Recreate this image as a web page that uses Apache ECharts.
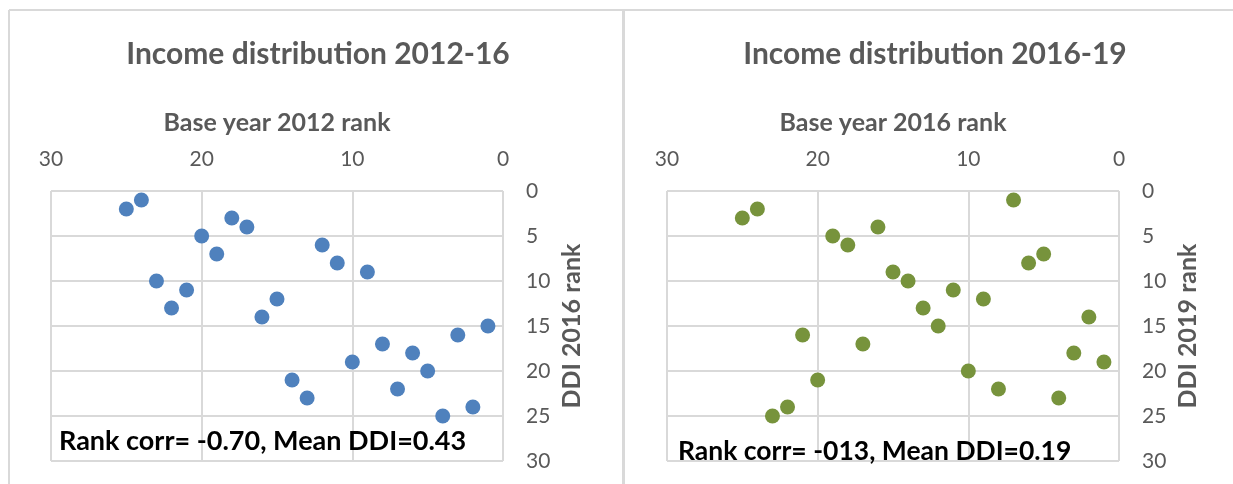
<!DOCTYPE html>
<html>
<head>
<meta charset="utf-8">
<script src="https://cdn.jsdelivr.net/npm/echarts@6/dist/echarts.min.js"></script>
<style>
html,body{margin:0;padding:0;background:#fff;}
#chart{width:1233px;height:484px;}
</style>
</head>
<body>
<div id="chart"></div>
<script>
const titles = ['Income distribution 2012-16', 'Income distribution 2016-19'];
const xAxisNames = ['Base year 2012 rank', 'Base year 2016 rank'];
const yAxisNames = ['DDI 2016 rank', 'DDI 2019 rank'];
const notes = ['Rank corr= -0.70, Mean DDI=0.43', 'Rank corr= -013, Mean DDI=0.19'];

const baseRank2012 = [24,25,18,17,20,12,19,11,9,23,21,15,22,16,1,3,8,6,10,5,14,7,13,2,4];
const ddiRank2016  = [1,2,3,4,5,6,7,8,9,10,11,12,13,14,15,16,17,18,19,20,21,22,23,24,25];
const baseRank2016 = [7,24,25,16,19,18,5,6,15,14,11,9,13,2,12,21,17,3,1,10,20,8,4,22,23];
const ddiRank2019  = [1,2,3,4,5,6,7,8,9,10,11,12,13,14,15,16,17,18,19,20,21,22,23,24,25];

const colors = ['#4F81BD', '#77933C'];
const FONT = 'Lato';
const GRAY = '#595959';

const grids = [
  {left: 51, top: 191, width: 452, height: 270},
  {left: 667, top: 191, width: 452, height: 270}
];

function pairs(xs, ys){ return xs.map((x,i)=>[x, ys[i]]); }
const seriesData = [pairs(baseRank2012, ddiRank2016), pairs(baseRank2016, ddiRank2019)];

const chart = echarts.init(document.getElementById('chart'), null, {renderer:'canvas'});

const option = {
  animation: false,
  backgroundColor: '#fff',
  textStyle: {fontFamily: FONT},
  title: [
    {text: titles[0], left: 313, top: 34, textAlign: 'center',
     textStyle: {fontFamily: FONT, fontWeight: 'bold', fontSize: 30, color: GRAY}},
    {text: titles[1], left: 930, top: 34, textAlign: 'center',
     textStyle: {fontFamily: FONT, fontWeight: 'bold', fontSize: 30, color: GRAY}},
    {text: notes[0], left: 54, top: 423,
     textStyle: {fontFamily: FONT, fontWeight: 'bold', fontSize: 27, color: '#000'}},
    {text: notes[1], left: 673, top: 433,
     textStyle: {fontFamily: FONT, fontWeight: 'bold', fontSize: 26.5, color: '#000'}}
  ],
  grid: grids,
  xAxis: [0,1].map(i => ({
    type: 'value', gridIndex: i, position: 'top', inverse: true,
    min: 0, max: 30, interval: 10,
    name: xAxisNames[i], nameLocation: 'middle', nameGap: 56,
    nameTextStyle: {fontFamily: FONT, fontWeight: 'bold', fontSize: 25, color: GRAY},
    axisLine: {show: false}, axisTick: {show: false},
    axisLabel: {fontFamily: FONT, fontSize: 21, color: GRAY, margin: 21},
    splitLine: {show: true, lineStyle: {color: '#d9d9d9', width: 2}}
  })),
  yAxis: [0,1].map(i => ({
    type: 'value', gridIndex: i, position: 'right', inverse: true,
    min: 0, max: 30, interval: 5,
    name: yAxisNames[i], nameLocation: 'middle', nameGap: 56, nameRotate: 90,
    nameTextStyle: {fontFamily: FONT, fontWeight: 'bold', fontSize: 25, color: GRAY},
    axisLine: {show: false}, axisTick: {show: false},
    axisLabel: {fontFamily: FONT, fontSize: 21, color: GRAY, margin: 23, align: 'left'},
    splitLine: {show: true, lineStyle: {color: '#d9d9d9', width: 2}}
  })),
  series: [0,1].map(i => ({
    type: 'scatter', xAxisIndex: i, yAxisIndex: i,
    data: seriesData[i], symbolSize: 15,
    itemStyle: {color: colors[i], opacity: 1}
  })),
  graphic: [
    {type: 'line', shape: {x1: 9, y1: 10, x2: 1233, y2: 10}, style: {stroke: '#d9d9d9', lineWidth: 2}, silent: true},
    {type: 'line', shape: {x1: 9, y1: 10, x2: 9, y2: 484}, style: {stroke: '#d9d9d9', lineWidth: 2}, silent: true},
    {type: 'line', shape: {x1: 623.5, y1: 10, x2: 623.5, y2: 484}, style: {stroke: '#d9d9d9', lineWidth: 3}, silent: true}
  ]
};
chart.setOption(option);
</script>
</body>
</html>
